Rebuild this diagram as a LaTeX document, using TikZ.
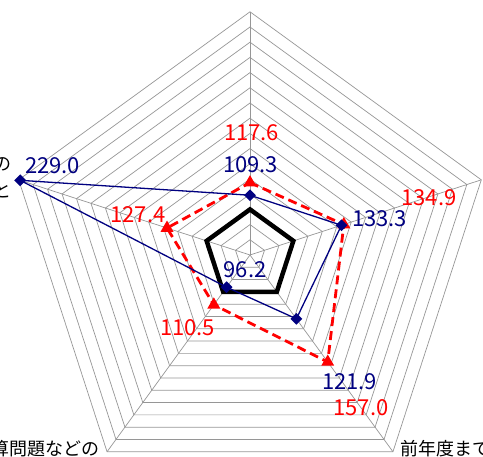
\documentclass[tikz,border=0pt]{standalone}
\usepackage{fontspec}
\setmainfont{Noto Sans CJK JP}
\usetikzlibrary{shapes.geometric}

\definecolor{navyblue}{RGB}{0,0,128}
\definecolor{gridgray}{RGB}{150,150,150}

\begin{document}
\begin{tikzpicture}[x=1pt,y=1pt,
  ringline/.style={gridgray,line width=0.7pt},
  blueline/.style={navyblue,line width=1.3pt},
  redline/.style={red,line width=2.8pt,dash pattern=on 9pt off 5pt},
  bluemark/.style={diamond,fill=navyblue,inner sep=0pt,minimum size=12pt},
  redmark/.style={regular polygon,regular polygon sides=3,fill=red,inner sep=0pt,minimum size=15pt},
  bluetxt/.style={navyblue,font=\fontsize{22}{22}\selectfont,inner sep=0pt},
  redtxt/.style={red,font=\fontsize{22}{22}\selectfont,inner sep=0pt},
  axtxt/.style={font=\fontsize{18}{27}\selectfont,inner sep=0pt}]
  \useasboundingbox (0,0) rectangle (483,457);
  \coordinate (O) at (250,202);
  \begin{scope}[shift={(O)}]
    % 16 rings, 70 to 230 in steps of 10
    \foreach \i in {1,...,16}
      \draw[ringline] (90:\i*15.2) -- (18:\i*15.2) -- (-54:\i*15.2) -- (-126:\i*15.2) -- (162:\i*15.2) -- cycle;
    \foreach \a in {90,18,-54,-126,162}
      \draw[ringline] (0,0) -- (\a:243.2);
    % data points
    \foreach \n/\a/\v in {1/90/109.3,2/18/133.3,3/-54/121.9,4/-126/96.2,5/162/229.0}
      \coordinate (b\n) at (\a:{(\v-70)*1.52});
    \foreach \n/\a/\v in {1/90/117.6,2/18/134.9,3/-54/157.0,4/-126/110.5,5/162/127.4}
      \coordinate (r\n) at (\a:{(\v-70)*1.52});
    \draw[black,line width=4.5pt,line join=miter] (90:45.6) -- (18:45.6) -- (-54:45.6) -- (-126:45.6) -- (162:45.6) -- cycle;
  \end{scope}
  \draw[redline] (r1) -- (r2) -- (r3) -- (r4) -- (r5) -- cycle;
  \draw[blueline] (b1) -- (b2) -- (b3) -- (b4) -- (b5) -- cycle;
  \foreach \n in {1,...,5} \node[redmark] at (r\n) {};
  \foreach \n in {1,...,5} \node[bluemark] at (b\n) {};
  % value labels
  \node[bluetxt] (bv1) at (250.5,292.5) {109.3};
  \node[bluetxt] (bv2) at (379.5,238.5) {133.3};
  \node[bluetxt] (bv3) at (349.5,75) {121.9};
  \node[bluetxt] (bv4) at (245,187.5) {96.2};
  \node[bluetxt] (bv5) at (52.5,291.5) {229.0};
  \node[redtxt] (rv1) at (251.5,324) {117.6};
  \node[redtxt] (rv2) at (429,259) {134.9};
  \node[redtxt] (rv3) at (361,49.5) {157.0};
  \node[redtxt] (rv4) at (187.5,129.5) {110.5};
  \node[redtxt] (rv5) at (138,242) {127.4};
  % axis labels (cut by the frame)
  \node[axtxt,align=right,anchor=east] (ax5) at (12,279.5) {の\\と};
  \node[axtxt,anchor=east] (ax4) at (100,8) {算問題などの};
  \node[axtxt,anchor=west] (ax3) at (400,8) {前年度まで};
\end{tikzpicture}
\end{document}
